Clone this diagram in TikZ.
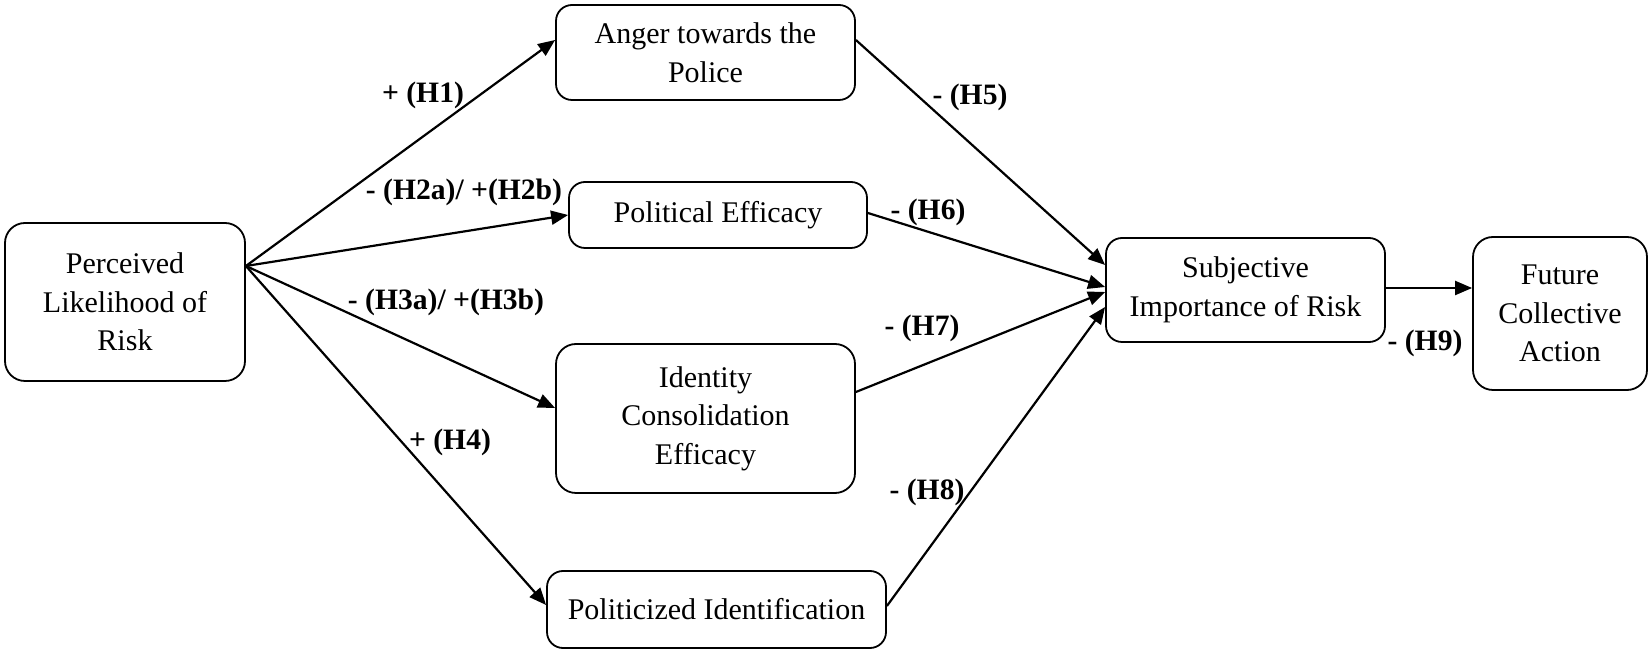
\documentclass[tikz,border=0pt]{standalone}
\usepackage{fontspec}
\setmainfont{Liberation Serif}
\usetikzlibrary{arrows.meta}
\begin{document}
\begin{tikzpicture}[x=0.5pt,y=-0.5pt,
  box/.style={draw,line width=0.9pt,rounded corners=8pt,inner sep=0pt,align=center,
    font=\fontsize{15}{19.3}\selectfont},
  lab/.style={inner sep=0pt,font=\fontsize{14.8}{17}\selectfont\bfseries},
  arr/.style={line width=1.1pt,-{Triangle[length=8.5pt,width=7pt]}}]
\useasboundingbox (0,0) rectangle (1650,651);
% nodes
\node[box,minimum width=120pt,minimum height=79pt,rounded corners=10pt] (perc) at (125,302) {Perceived\\Likelihood of\\Risk};
\node[box,minimum width=149.5pt,minimum height=47.5pt] (anger) at (705.5,52.5) {Anger towards the\\Police};
\node[box,minimum width=149pt,minimum height=33pt] (pol) at (718,215) {Political Efficacy};
\node[box,minimum width=149.5pt,minimum height=74.5pt,rounded corners=10pt] (ident) at (705.5,418.5) {Identity\\Consolidation\\Efficacy};
\node[box,minimum width=169.5pt,minimum height=38.5pt] (politi) at (716.5,609.5) {Politicized Identification};
\node[box,minimum width=139.5pt,minimum height=52pt] (subj) at (1245.5,290) {Subjective\\Importance of Risk};
\node[box,minimum width=87pt,minimum height=76.5pt,rounded corners=10pt] (fut) at (1560,313.5) {Future\\Collective\\Action};
% source point on perceived
\coordinate (pout) at ([yshift=18pt]perc.east);
% connectors
\draw[arr] (pout) -- ([yshift=6.25pt]anger.west);
\draw[arr] (pout) -- (pol.west);
\draw[arr] (pout) -- ([yshift=5.25pt]ident.west);
\draw[arr] (pout) -- ([yshift=2.25pt]politi.west);
\draw[arr] ([yshift=6.25pt]anger.east) -- ([yshift=12.5pt]subj.west);
\draw[arr] ([yshift=1pt]pol.east) -- ([yshift=1.5pt]subj.west);
\draw[arr] ([yshift=13.25pt]ident.east) -- ([yshift=-1pt]subj.west);
\draw[arr] ([yshift=1.75pt]politi.east) -- ([yshift=-8.5pt]subj.west);
\coordinate (sout) at ([yshift=1pt]subj.east);
\draw[arr] (sout) -- (sout -| fut.west);
% labels
\node[lab] (l1) at (423,95) {+ (H1)};
\node[lab] (l2) at (464,192) {- (H2a)/ +(H2b)};
\node[lab] (l3) at (446,302) {- (H3a)/ +(H3b)};
\node[lab] (l4) at (450,442) {+ (H4)};
\node[lab] (l5) at (970,97) {- (H5)};
\node[lab] (l6) at (928,212) {- (H6)};
\node[lab] (l7) at (922,328) {- (H7)};
\node[lab] (l8) at (927,492) {- (H8)};
\node[lab] (l9) at (1425,343) {- (H9)};
\end{tikzpicture}
\end{document}
